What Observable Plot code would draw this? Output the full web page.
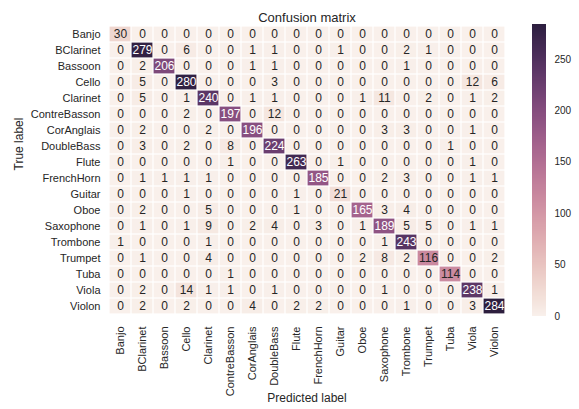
<!DOCTYPE html>
<html>
<head>
<meta charset="utf-8">
<script src="https://cdn.jsdelivr.net/npm/d3@7"></script>
<script src="https://cdn.jsdelivr.net/npm/@observablehq/plot@0.6"></script>
<style>
  body { margin: 0; background: #fff; }
  #chart { position: relative; width: 579px; height: 409px; }
  #chart svg { position: absolute; top: 0; }
</style>
</head>
<body>
<div id="chart"></div>
<script>
// Instrument classes (rows = true label, columns = predicted label)
const labels = ["Banjo", "BClarinet", "Bassoon", "Cello", "Clarinet", "ContreBasson",
  "CorAnglais", "DoubleBass", "Flute", "FrenchHorn", "Guitar", "Oboe", "Saxophone",
  "Trombone", "Trumpet", "Tuba", "Viola", "Violon"];

const counts = [
  [30, 0, 0, 0, 0, 0, 0, 0, 0, 0, 0, 0, 0, 0, 0, 0, 0, 0],
  [0, 279, 0, 6, 0, 0, 1, 1, 0, 0, 1, 0, 0, 2, 1, 0, 0, 0],
  [0, 2, 206, 0, 0, 0, 1, 1, 0, 0, 0, 0, 0, 1, 0, 0, 0, 0],
  [0, 5, 0, 280, 0, 0, 0, 3, 0, 0, 0, 0, 0, 0, 0, 0, 12, 6],
  [0, 5, 0, 1, 240, 0, 1, 1, 0, 0, 0, 1, 11, 0, 2, 0, 1, 2],
  [0, 0, 0, 2, 0, 197, 0, 12, 0, 0, 0, 0, 0, 0, 0, 0, 0, 0],
  [0, 2, 0, 0, 2, 0, 196, 0, 0, 0, 0, 0, 3, 3, 0, 0, 1, 0],
  [0, 3, 0, 2, 0, 8, 0, 224, 0, 0, 0, 0, 0, 0, 0, 1, 0, 0],
  [0, 0, 0, 0, 0, 1, 0, 0, 263, 0, 1, 0, 0, 0, 0, 0, 1, 0],
  [0, 1, 1, 1, 1, 0, 0, 0, 0, 185, 0, 0, 2, 3, 0, 0, 1, 1],
  [0, 0, 0, 1, 0, 0, 0, 0, 1, 0, 21, 0, 0, 0, 0, 0, 0, 0],
  [0, 2, 0, 0, 5, 0, 0, 0, 1, 0, 0, 165, 3, 4, 0, 0, 0, 0],
  [0, 1, 0, 1, 9, 0, 2, 4, 0, 3, 0, 1, 189, 5, 5, 0, 1, 1],
  [1, 0, 0, 0, 1, 0, 0, 0, 0, 0, 0, 0, 1, 243, 0, 0, 0, 0],
  [0, 1, 0, 0, 4, 0, 0, 0, 0, 0, 0, 2, 8, 2, 116, 0, 0, 2],
  [0, 0, 0, 0, 0, 1, 0, 0, 0, 0, 0, 0, 0, 0, 0, 114, 0, 0],
  [0, 2, 0, 14, 1, 1, 0, 1, 0, 0, 0, 0, 1, 0, 0, 0, 238, 1],
  [0, 2, 0, 2, 0, 0, 4, 0, 2, 2, 0, 0, 0, 1, 0, 0, 3, 284]
];

const colorbarTicks = [0, 50, 100, 150, 200, 250];

// Cubehelix ramp (start 0, rot 0.4, hue 0.8, light 0.95 -> dark 0.15)
function cubehelixColor(t) {
  const x = 0.95 + (0.15 - 0.95) * t;
  const start = 0, rot = 0.4, hue = 0.8, gamma = 1;
  const xg = Math.pow(x, gamma);
  const a = hue * xg * (1 - xg) / 2;
  const phi = 2 * Math.PI * (start / 3 + rot * x);
  const c = Math.cos(phi), s = Math.sin(phi);
  const clamp = v => Math.max(0, Math.min(1, v));
  const r = clamp(xg + a * (-0.14861 * c + 1.78277 * s));
  const g = clamp(xg + a * (-0.29227 * c - 0.90649 * s));
  const b = clamp(xg + a * (1.97294 * c));
  return `rgb(${Math.round(r * 255)},${Math.round(g * 255)},${Math.round(b * 255)})`;
}

function luminance(color) {
  const {r, g, b} = d3.rgb(color);
  const lin = v => { v /= 255; return v <= 0.03928 ? v / 12.92 : Math.pow((v + 0.055) / 1.055, 2.4); };
  return 0.2126 * lin(r) + 0.7152 * lin(g) + 0.0722 * lin(b);
}

const cells = [];
counts.forEach((row, i) => row.forEach((v, j) => cells.push({truth: labels[i], pred: labels[j], value: v})));
const vmax = d3.max(cells, d => d.value);
const colorOpts = {type: "linear", domain: [0, vmax], interpolate: cubehelixColor};
// white annotations only on the darker cells
const isDark = v => luminance(cubehelixColor(v / vmax)) <= 0.31;

const font = "'Liberation Sans', Arial, sans-serif";
const textColor = "#262626";

const heatmap = Plot.plot({
  width: 579,
  height: 409,
  marginLeft: 106,
  marginRight: 72,
  marginTop: 24,
  marginBottom: 93,
  style: {fontFamily: font, fontSize: "11px", color: textColor, background: "transparent"},
  x: {domain: labels, padding: 0, label: null},
  y: {domain: labels, padding: 0, label: null},
  color: colorOpts,
  marks: [
    Plot.cell(cells, {x: "pred", y: "truth", fill: "value", inset: 0.6}),
    Plot.text(cells.filter(d => !isDark(d.value)), {x: "pred", y: "truth", text: d => String(d.value), fill: textColor, fontSize: 12}),
    Plot.text(cells.filter(d => isDark(d.value)), {x: "pred", y: "truth", text: d => String(d.value), fill: "white", fontSize: 12}),
    Plot.axisX({anchor: "bottom", tickSize: 0, tickPadding: 10, tickRotate: -90, label: null, fontSize: 11}),
    Plot.axisY({anchor: "left", tickSize: 0, tickPadding: 6, label: null, fontSize: 11}),
    Plot.text(["Confusion matrix"], {frameAnchor: "top", dy: -12, fontSize: 13}),
    Plot.text(["Predicted label"], {frameAnchor: "bottom", dy: 85, fontSize: 12}),
    Plot.text(["True label"], {frameAnchor: "left", dx: -87, rotate: -90, fontSize: 12})
  ]
});

// Vertical colour bar built from one stripe per count unit
const ramp = d3.range(0, vmax);
const colorbar = Plot.plot({
  width: 60,
  height: 409,
  marginLeft: 13,
  marginRight: 33,
  marginTop: 24,
  marginBottom: 93,
  style: {fontFamily: font, fontSize: "10px", color: textColor, background: "transparent"},
  y: {domain: [0, vmax]},
  color: colorOpts,
  marks: [
    Plot.rect(ramp, {y1: d => d, y2: d => d + 1, fill: d => d + 0.5, shapeRendering: "crispEdges"}),
    Plot.axisY({anchor: "right", ticks: colorbarTicks, tickSize: 0, tickPadding: 8, label: null, fontSize: 10})
  ]
});
colorbar.style.left = "519px";

const chart = document.getElementById("chart");
chart.appendChild(heatmap);
chart.appendChild(colorbar);
</script>
</body>
</html>
